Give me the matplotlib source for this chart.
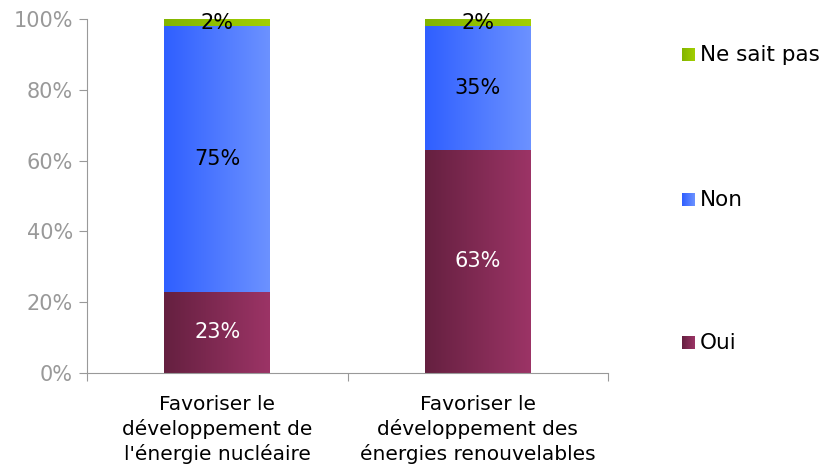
import matplotlib.pyplot as plt
import numpy as np
from matplotlib.colors import LinearSegmentedColormap

categories = ["Favoriser le\ndéveloppement de\nl'énergie nucléaire",
              "Favoriser le\ndéveloppement des\nénergies renouvelables"]
series = ["Oui", "Non", "Ne sait pas"]
oui = [23, 63]
non = [75, 35]
nsp = [2, 2]
yticks = [0, 20, 40, 60, 80, 100]

grads = {
    "Oui": ("#652040", "#9C3466"),
    "Non": ("#2F5FFF", "#6C92FF"),
    "Ne sait pas": ("#82B400", "#A2CF00"),
}
label_colors = {"Oui": "white", "Non": "black", "Ne sait pas": "black"}

plt.rcParams["font.family"] = ["DejaVu Sans"]
fig = plt.figure(figsize=(8.25, 4.67), dpi=100)
ax = fig.add_axes([87 / 825, 1 - 373 / 467, (608 - 87) / 825, (373 - 19) / 467])

grad = np.linspace(0, 1, 256).reshape(1, -1)
xpos = np.arange(len(categories)) + 0.5
width = 0.405

bottoms = np.zeros(len(categories))
for name, vals in zip(series, [oui, non, nsp]):
    cmap = LinearSegmentedColormap.from_list(name, grads[name])
    for x, b, v in zip(xpos, bottoms, vals):
        rect = plt.Rectangle((x - width / 2, b), width, v, facecolor="none", edgecolor="none")
        ax.add_patch(rect)
        im = ax.imshow(grad, cmap=cmap, aspect="auto",
                       extent=(x - width / 2, x + width / 2, b, b + v), zorder=2)
        im.set_clip_path(rect)
        ax.text(x, b + v / 2, f"{v}%", ha="center", va="center",
                color=label_colors[name], fontsize=15, zorder=3)
    bottoms += np.array(vals)

ax.set_xlim(0, 2)
ax.set_ylim(0, 100)
ax.set_yticks(yticks)
ax.set_yticklabels([f"{t}%" for t in yticks], color="#999999", fontsize=15)
ax.set_xticks([0, 1, 2])
ax.set_xticklabels([])
ax.set_xticks(xpos, minor=True)
ax.set_xticklabels(categories, minor=True, fontsize=14.5, linespacing=1.3)
ax.tick_params(axis="x", which="minor", length=0, pad=16)
ax.tick_params(axis="x", which="major", length=6, color="#999999")
ax.tick_params(axis="y", length=6, color="#999999", pad=4)
for s in ["top", "right"]:
    ax.spines[s].set_visible(False)
for s in ["left", "bottom"]:
    ax.spines[s].set_color("#999999")

# legend with gradient squares
leg_items = [("Ne sait pas", 55), ("Non", 200), ("Oui", 343)]
for name, ypx in leg_items:
    cmap = LinearSegmentedColormap.from_list(name, grads[name])
    lax = fig.add_axes([682 / 825, 1 - (ypx + 6) / 467, 13 / 825, 13 / 467])
    lax.imshow(grad, cmap=cmap, aspect="auto")
    lax.axis("off")
    fig.text(700 / 825, 1 - ypx / 467, name, fontsize=15.5, va="center", ha="left")

fig.savefig("out.png", dpi=100)
